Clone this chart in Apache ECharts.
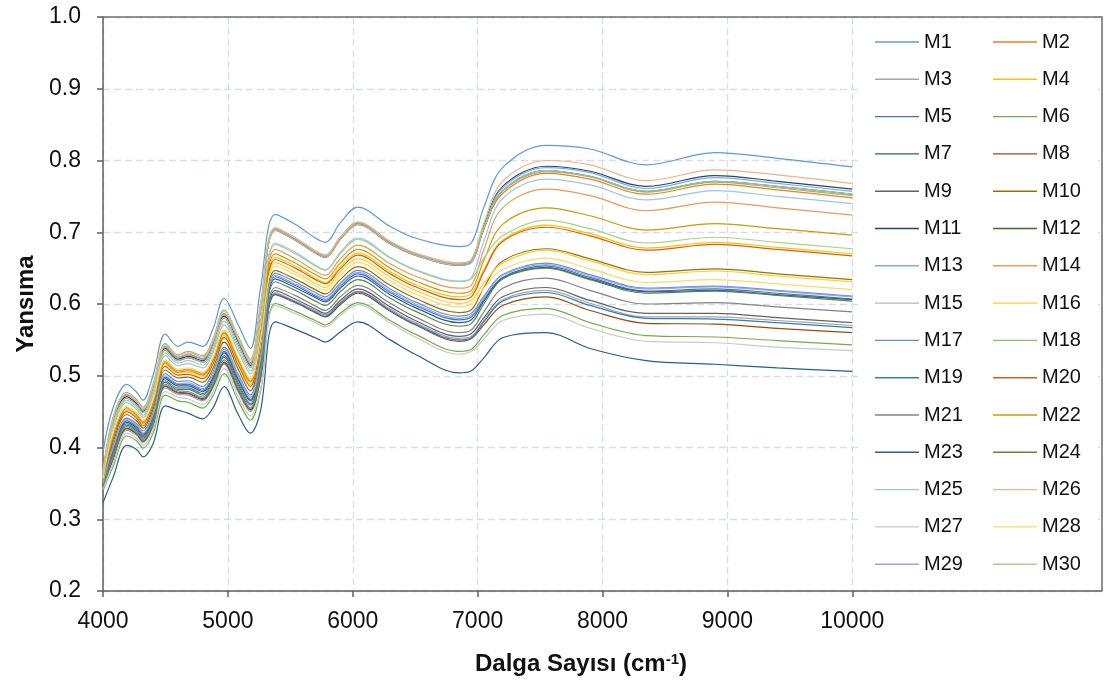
<!DOCTYPE html>
<html>
<head>
<meta charset="utf-8">
<script src="https://cdn.jsdelivr.net/npm/echarts@6/dist/echarts.min.js"></script>
<style>
html,body{margin:0;padding:0;background:#fff;}
#chart{width:1107px;height:684px;}
</style>
</head>
<body>
<div id="chart"></div>
<script>
const wavenumbers = [4000,4080,4190,4270,4320,4400,4500,4600,4680,4800,4880,4970,5080,5180,5260,5380,5550,5700,5780,5900,6040,6300,6500,6850,6950,7050,7200,7550,7900,8350,8900,9400,10000];
const xTickLabels = [4000,5000,6000,7000,8000,9000,10000];
const seriesNames = ['M1','M2','M3','M4','M5','M6','M7','M8','M9','M10','M11','M12','M13','M14','M15','M16','M17','M18','M19','M20','M21','M22','M23','M24','M25','M26','M27','M28','M29','M30'];

const M1  = [.394,.455,.488,.477,.466,.500,.558,.541,.547,.541,.565,.608,.572,.538,.620,.725,.710,.692,.686,.713,.735,.708,.692,.680,.685,.735,.790,.821,.816,.794,.811,.803,.791];
const M2  = [.364,.438,.473,.463,.452,.483,.540,.525,.529,.523,.545,.586,.550,.517,.592,.703,.688,.671,.665,.690,.711,.684,.668,.654,.658,.705,.754,.782,.774,.753,.767,.759,.748];
const M3  = [.344,.382,.424,.417,.407,.429,.483,.474,.473,.465,.483,.516,.478,.450,.494,.616,.603,.591,.585,.602,.618,.593,.574,.552,.555,.577,.606,.619,.601,.582,.582,.577,.570];
const M4  = [.357,.418,.456,.447,.436,.464,.520,.507,.509,.503,.523,.561,.525,.493,.554,.665,.652,.636,.630,.652,.671,.645,.627,.610,.614,.648,.689,.710,.698,.678,.686,.679,.670];
const M5  = [.349,.397,.437,.429,.419,.443,.498,.488,.488,.480,.499,.534,.497,.467,.520,.638,.625,.611,.605,.625,.642,.616,.598,.578,.582,.606,.637,.653,.637,.618,.621,.615,.607];
const M6  = [.340,.373,.416,.409,.399,.419,.473,.465,.463,.455,.472,.503,.466,.438,.477,.601,.589,.577,.571,.587,.602,.577,.558,.534,.537,.557,.584,.594,.574,.556,.554,.549,.543];
const M7  = [.323,.358,.403,.397,.387,.405,.458,.452,.448,.440,.455,.485,.447,.420,.450,.575,.564,.553,.547,.561,.575,.550,.530,.504,.507,.525,.553,.560,.538,.521,.516,.511,.506];
const M8  = [.345,.385,.427,.419,.409,.432,.486,.477,.476,.468,.486,.519,.482,.453,.495,.613,.601,.588,.582,.599,.615,.590,.571,.548,.552,.571,.598,.610,.591,.573,.572,.566,.560];
const M9  = [.344,.384,.426,.419,.408,.431,.485,.476,.475,.467,.485,.518,.481,.452,.498,.619,.606,.593,.587,.605,.621,.596,.577,.555,.559,.581,.610,.623,.605,.587,.587,.581,.574];
const M10 = [.353,.407,.446,.437,.427,.453,.508,.497,.498,.491,.510,.547,.510,.479,.533,.647,.634,.620,.614,.634,.652,.626,.608,.588,.592,.623,.660,.677,.663,.644,.649,.642,.634];
const M11 = [.363,.436,.471,.461,.450,.481,.538,.523,.527,.521,.543,.583,.547,.514,.591,.704,.690,.673,.667,.692,.713,.686,.669,.655,.660,.709,.764,.792,.785,.764,.779,.771,.760];
const M12 = [.362,.434,.469,.459,.449,.479,.536,.521,.525,.519,.541,.581,.545,.512,.589,.703,.688,.671,.665,.690,.711,.684,.668,.654,.658,.705,.758,.786,.778,.757,.771,.764,.753];
const M13 = [.364,.439,.474,.463,.453,.484,.541,.526,.530,.524,.546,.587,.551,.518,.594,.704,.690,.673,.667,.692,.713,.686,.669,.655,.660,.708,.762,.790,.783,.761,.776,.768,.757];
const M14 = [.357,.418,.456,.447,.436,.464,.520,.507,.509,.503,.523,.561,.525,.493,.560,.676,.662,.646,.640,.663,.682,.656,.639,.622,.626,.676,.734,.760,.751,.730,.742,.734,.724];
const M15 = [.362,.434,.469,.459,.449,.479,.536,.521,.525,.519,.541,.581,.545,.512,.589,.703,.688,.671,.665,.690,.711,.684,.668,.654,.658,.705,.758,.786,.778,.757,.771,.764,.753];
const M16 = [.355,.414,.452,.443,.433,.460,.516,.504,.505,.499,.519,.556,.520,.488,.546,.658,.644,.629,.623,.645,.663,.637,.619,.601,.605,.629,.657,.675,.660,.641,.646,.639,.631];
const M17 = [.351,.402,.441,.433,.423,.448,.503,.492,.493,.485,.505,.540,.503,.473,.527,.643,.630,.616,.610,.629,.647,.621,.603,.583,.587,.611,.641,.657,.641,.622,.625,.619,.611];
const M18 = [.365,.442,.477,.467,.456,.488,.545,.529,.534,.528,.551,.592,.556,.523,.598,.706,.691,.674,.668,.693,.714,.687,.671,.657,.662,.707,.757,.784,.777,.756,.770,.762,.751];
const M19 = [.347,.390,.431,.423,.413,.436,.491,.481,.481,.473,.491,.526,.488,.459,.500,.614,.602,.589,.583,.601,.617,.591,.572,.550,.553,.575,.604,.616,.598,.580,.579,.574,.567];
const M20 = [.354,.411,.450,.441,.430,.457,.513,.501,.502,.496,.516,.553,.516,.485,.546,.662,.649,.634,.628,.649,.668,.642,.624,.606,.610,.645,.687,.707,.695,.675,.683,.676,.667];
const M21 = [.346,.387,.429,.421,.411,.434,.488,.479,.478,.470,.488,.522,.485,.455,.503,.623,.611,.597,.591,.610,.626,.601,.582,.560,.564,.589,.622,.636,.619,.600,.602,.596,.589];
const M22 = [.356,.416,.454,.445,.434,.462,.518,.505,.507,.501,.521,.559,.522,.491,.555,.670,.656,.641,.635,.657,.676,.650,.632,.615,.619,.661,.711,.734,.723,.703,.712,.705,.696];
const M23 = [.348,.395,.435,.427,.417,.441,.496,.486,.486,.478,.497,.532,.495,.465,.516,.635,.622,.609,.603,.622,.639,.613,.595,.574,.578,.604,.636,.651,.635,.617,.619,.613,.606];
const M24 = [.347,.392,.433,.425,.415,.438,.493,.483,.483,.475,.494,.528,.491,.461,.511,.631,.618,.604,.598,.617,.634,.608,.590,.569,.573,.600,.635,.650,.634,.615,.618,.612,.604];
const M25 = [.360,.426,.463,.453,.442,.472,.528,.514,.517,.511,.532,.571,.535,.503,.572,.685,.671,.654,.648,.672,.692,.665,.648,.632,.637,.688,.747,.774,.766,.745,.758,.750,.740];
const M26 = [.365,.440,.475,.465,.454,.486,.543,.528,.532,.526,.549,.590,.553,.520,.596,.706,.691,.674,.668,.693,.714,.687,.671,.657,.662,.713,.771,.800,.794,.772,.787,.780,.768];
const M27 = [.342,.377,.420,.413,.403,.424,.478,.470,.468,.460,.477,.510,.472,.444,.480,.598,.586,.574,.568,.584,.599,.574,.554,.530,.534,.551,.577,.586,.566,.548,.546,.540,.535];
const M28 = [.357,.420,.457,.448,.438,.466,.522,.509,.511,.505,.525,.564,.527,.496,.549,.653,.640,.625,.619,.640,.658,.632,.614,.596,.600,.622,.648,.664,.649,.630,.634,.628,.620];
const M29 = [.350,.399,.439,.431,.420,.445,.500,.489,.490,.482,.501,.537,.500,.470,.522,.640,.627,.613,.607,.626,.644,.618,.600,.580,.584,.609,.640,.655,.639,.621,.624,.618,.610];
const M30 = [.361,.430,.466,.456,.445,.475,.532,.518,.521,.515,.536,.576,.540,.507,.574,.683,.669,.653,.647,.670,.690,.664,.647,.631,.635,.664,.695,.717,.705,.685,.693,.686,.677];

const allValues = [M1,M2,M3,M4,M5,M6,M7,M8,M9,M10,M11,M12,M13,M14,M15,M16,M17,M18,M19,M20,M21,M22,M23,M24,M25,M26,M27,M28,M29,M30];

const colors = ['#5B9BD5','#ED7D31','#A5A5A5','#FFC000','#4472C4','#70AD47','#255E91','#9E480E','#636363','#997300',
  '#264478','#43682B','#7CAFDD','#F1975A','#B7B7B7','#FFCD33','#698ED0','#8CC168','#327DC2','#D26012',
  '#848484','#CC9A00','#335AA1','#5A8A39','#9DC3E6','#F4B183','#C9C9C9','#FFD966','#8FAADC','#A9D18E'];

const FONT = 'Arial, "Liberation Sans", sans-serif';

const series = seriesNames.map((name, k) => ({
  name: name,
  type: 'line',
  data: wavenumbers.map((w, i) => [w, allValues[k][i]]),
  smooth: 0.35,
  symbol: 'none',
  showSymbol: false,
  lineStyle: { width: 1.2, color: colors[k] },
  itemStyle: { color: colors[k] },
  emphasis: { disabled: true },
  z: 2
}));

const oddNames = seriesNames.filter((n, i) => i % 2 === 0);
const evenNames = seriesNames.filter((n, i) => i % 2 === 1);

const legendCommon = {
  orient: 'vertical',
  top: 32,
  padding: 0,
  itemWidth: 44,
  itemHeight: 14,
  itemGap: 17.3,
  icon: 'path://M0,7 L44,7 L44,8.4 L0,8.4 Z',
  textStyle: { fontSize: 20, lineHeight: 20, color: '#111111', fontFamily: FONT },
  selectedMode: false,
  z: 5
};

const chart = echarts.init(document.getElementById('chart'), null, { renderer: 'canvas' });
chart.setOption({
  animation: false,
  color: colors,
  grid: {
    left: 103, top: 17, right: 5, bottom: 93,
    show: false
  },
  xAxis: {
    type: 'value',
    min: 4000, max: 12000, interval: 1000,
    axisLine: { show: true, onZero: false, lineStyle: { color: '#5f5f5f', width: 1.5 } },
    axisTick: { show: true, length: 6, customValues: xTickLabels, lineStyle: { color: '#5f5f5f', width: 1.5 } },
    axisLabel: {
      customValues: xTickLabels,
      formatter: v => (v <= 10000 ? String(v) : ''),
      fontSize: 23, color: '#111111', fontFamily: FONT, margin: 19
    },
    splitLine: { show: true, lineStyle: { color: '#d8dee8', type: [7, 4], width: 1.3 } }
  },
  yAxis: {
    type: 'value',
    min: 0.2, max: 1.0, interval: 0.1,
    name: 'Yansıma',
    nameLocation: 'middle',
    nameGap: 55,
    nameTextStyle: { fontSize: 24, fontWeight: 'bold', color: '#111111', fontFamily: FONT },
    axisLine: { show: true, lineStyle: { color: '#5f5f5f', width: 1.5 } },
    axisTick: { show: true, length: 6, lineStyle: { color: '#5f5f5f', width: 1.5 } },
    axisLabel: {
      formatter: v => v.toFixed(1),
      fontSize: 23, color: '#111111', fontFamily: FONT, margin: 22
    },
    splitLine: { show: true, lineStyle: { color: '#d8dee8', type: [7, 4], width: 1.3 } }
  },
  legend: [
    Object.assign({}, legendCommon, { left: 875, data: oddNames }),
    Object.assign({}, legendCommon, { left: 993, data: evenNames })
  ],
  graphic: [
    { type: 'rect', shape: { x: 858, y: 22, width: 240, height: 561 }, style: { fill: '#ffffff' }, z: 1, silent: true },
    { type: 'polyline', shape: { points: [[103, 17], [1102, 17], [1102, 591]] }, style: { stroke: '#6e6e6e', lineWidth: 1.5, fill: null }, z: 10, silent: true },
    {
      type: 'text', x: 581, y: 664, z: 5, silent: true,
      style: {
        text: 'Dalga Sayısı (cm{sup|-1})',
        font: 'bold 24px ' + FONT,
        fill: '#111111',
        align: 'center',
        verticalAlign: 'middle',
        rich: {
          sup: { fontSize: 15, fontWeight: 'bold', fontFamily: FONT, fill: '#111111', verticalAlign: 'top', lineHeight: 24, padding: [0, 0, 10, 0] }
        }
      }
    }
  ],
  series: series
});
</script>
</body>
</html>
